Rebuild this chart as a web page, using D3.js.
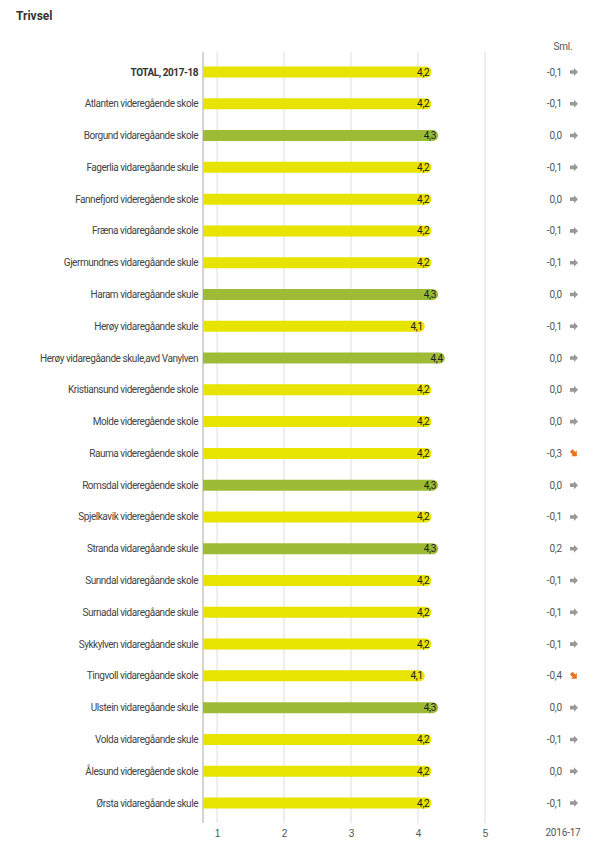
<!DOCTYPE html>
<html lang="no">
<head>
<meta charset="utf-8">
<title>Trivsel</title>
<script src="https://d3js.org/d3.v7.min.js"></script>
<style>
  body { margin: 0; background: #fff; font-family: Roboto, "Noto Sans", sans-serif; }
  .title { font-weight: bold; font-size: 12px; fill: #333; }
  .lbl { font-size: 10px; fill: #444; letter-spacing: -0.45px; }
  .val { font-size: 10px; fill: #222; letter-spacing: -0.3px; }
  .sml { font-size: 10px; fill: #555; letter-spacing: -0.2px; }
  .tick text { font-size: 10px; fill: #555; }
</style>
</head>
<body>
<script>
// schools (first row is the total)
const schools = [
  "TOTAL, 2017-18",
  "Atlanten videregående skole",
  "Borgund vidaregåande skole",
  "Fagerlia vidaregåande skule",
  "Fannefjord videregående skole",
  "Fræna vidaregåande skole",
  "Gjermundnes vidaregåande skule",
  "Haram vidaregåande skule",
  "Herøy vidaregåande skule",
  "Herøy vidaregåande skule,avd Vanylven",
  "Kristiansund videregående skole",
  "Molde videregående skole",
  "Rauma videregående skole",
  "Romsdal videregående skole",
  "Spjelkavik videregående skole",
  "Stranda vidaregåande skule",
  "Sunndal vidaregåande skole",
  "Surnadal vidaregåande skule",
  "Sykkylven vidaregåande skule",
  "Tingvoll vidaregåande skole",
  "Ulstein vidaregåande skule",
  "Volda vidaregåande skule",
  "Ålesund videregående skole",
  "Ørsta vidaregåande skule"
];
// score 2017-18
const scores = [4.2, 4.2, 4.3, 4.2, 4.2, 4.2, 4.2, 4.3, 4.1, 4.4, 4.2, 4.2,
                4.2, 4.3, 4.2, 4.3, 4.2, 4.2, 4.2, 4.1, 4.3, 4.2, 4.2, 4.2];
// change vs 2016-17
const changes = [-0.1, -0.1, 0.0, -0.1, 0.0, -0.1, -0.1, 0.0, -0.1, 0.0, 0.0, 0.0,
                 -0.3, 0.0, -0.1, 0.2, -0.1, -0.1, -0.1, -0.4, 0.0, -0.1, 0.0, -0.1];
const ticks = [1, 2, 3, 4, 5];

const width = 616, height = 849;
const fmt = v => d3.format(".1f")(v).replace(".", ",").replace("−", "-");

const svg = d3.select("body").append("svg")
  .attr("width", width).attr("height", height);

svg.append("text").attr("class", "title")
  .attr("x", 16).attr("y", 20).text("Trivsel");

const x = d3.scaleLinear().domain([0.79, 5]).range([203, 485]);
const y = d3.scalePoint().domain(schools).range([72, 803]);
const barH = 11;
const smlX = 563;

// gridlines
svg.append("g").selectAll("line").data(ticks).join("line")
  .attr("x1", d => x(d)).attr("x2", d => x(d))
  .attr("y1", 52).attr("y2", 823)
  .attr("stroke", "#ddd");

// axis base line
svg.append("line")
  .attr("x1", x(0.79)).attr("x2", x(0.79))
  .attr("y1", 52).attr("y2", 823)
  .attr("stroke", "#aaa");

// tick labels
const ax = svg.append("g")
  .attr("transform", "translate(0,823)")
  .call(d3.axisBottom(x).tickValues(ticks).tickSize(0).tickPadding(7).tickFormat(d3.format("d")));
ax.select(".domain").remove();

const rows = schools.map((s, i) => ({ name: s, score: scores[i], change: changes[i] }));

const row = svg.append("g").selectAll("g").data(rows).join("g")
  .attr("transform", d => `translate(0,${y(d.name)})`);

row.append("text").attr("class", "lbl")
  .attr("x", 198).attr("dy", "0.35em")
  .attr("text-anchor", "end")
  .style("font-weight", (d, i) => i === 0 ? "bold" : null)
  .style("fill", (d, i) => i === 0 ? "#333" : null)
  .text(d => d.name);

// bars: flat left, rounded right end
row.append("path")
  .attr("d", d => {
    const x0 = x(0.79), x1 = x(d.score), r = barH / 2;
    return `M${x0},${-r}H${x1 - r}A${r},${r} 0 0 1 ${x1 - r},${r}H${x0}Z`;
  })
  .attr("fill", d => d.score >= 4.3 ? "#9dbb35" : "#e6e400");

row.append("text").attr("class", "val")
  .attr("x", d => x(d.score) - 2).attr("dy", "0.35em")
  .attr("text-anchor", "end")
  .text(d => fmt(d.score));

// comparison column
svg.append("text").attr("class", "sml")
  .attr("x", smlX).attr("y", 50).attr("text-anchor", "middle").text("Sml.");
svg.append("text").attr("class", "sml")
  .attr("x", smlX).attr("y", 836).attr("text-anchor", "middle").text("2016-17");

row.append("text").attr("class", "sml")
  .attr("x", smlX - 1).attr("dy", "0.35em")
  .attr("text-anchor", "end")
  .text(d => fmt(d.change));

// small block arrow; grey flat, orange tilted down when clearly worse
const arrow = "M-4,-1.8H0V-4L4,0L0,4V1.8H-4Z";
row.append("path")
  .attr("d", arrow)
  .attr("transform", d => d.change <= -0.3 ? `translate(${smlX + 11},0) rotate(45)` : `translate(${smlX + 11},0)`)
  .attr("fill", d => d.change <= -0.3 ? "#e8731c" : "#999");
</script>
</body>
</html>
